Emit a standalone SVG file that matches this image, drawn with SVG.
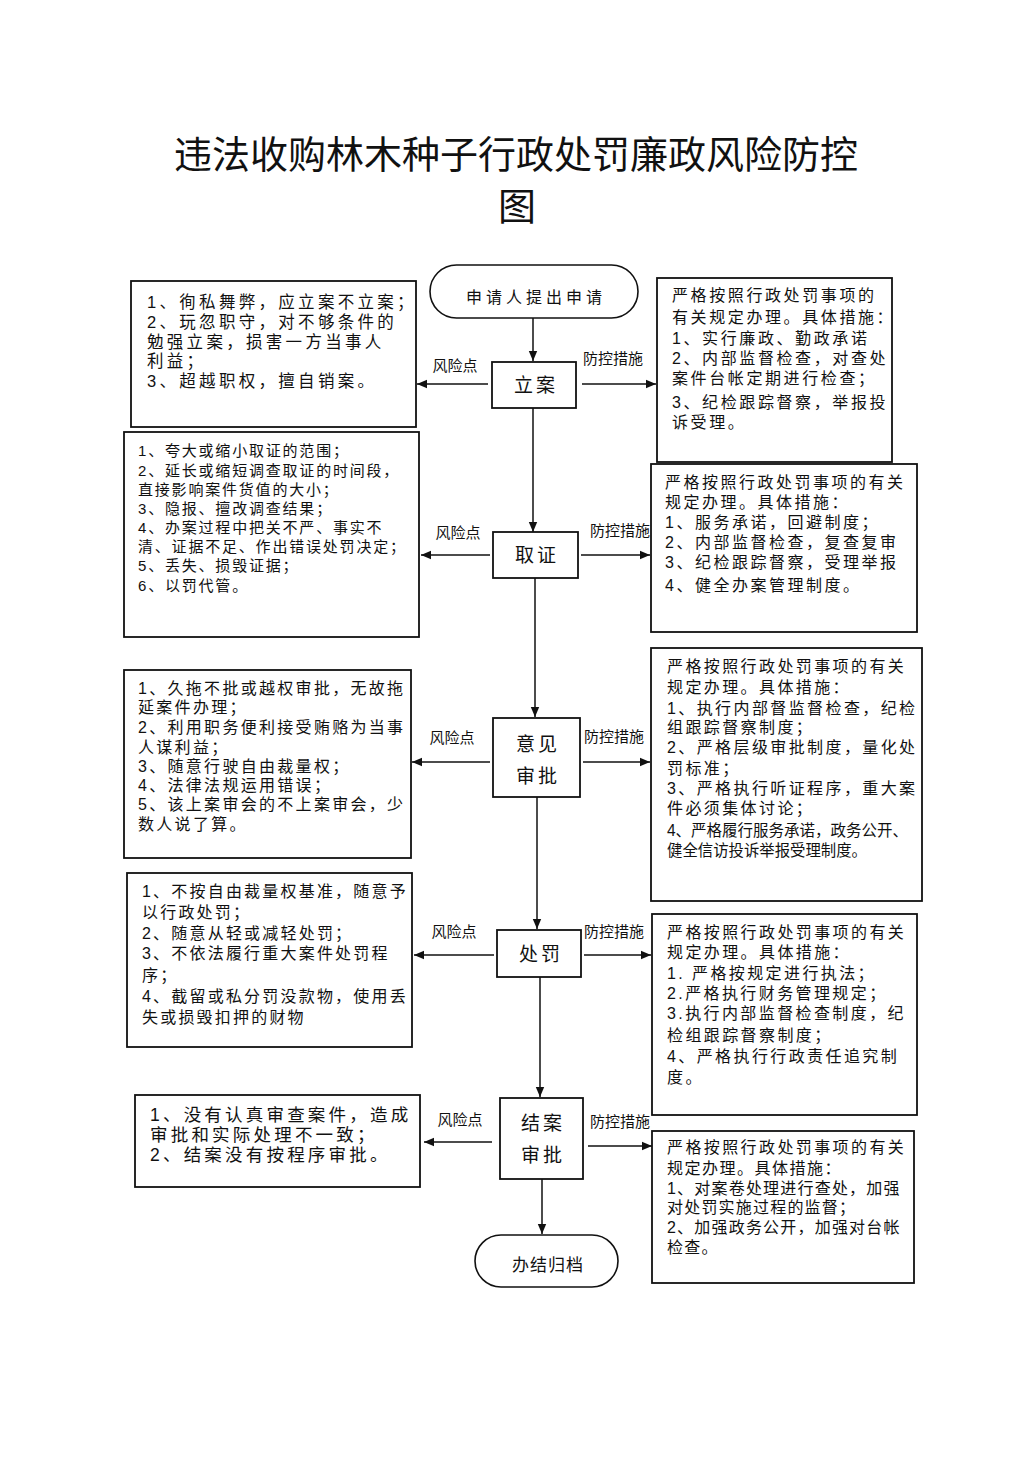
<svg xmlns="http://www.w3.org/2000/svg" width="1033" height="1461" viewBox="0 0 1033 1461">
<style>
text{font-family:"Liberation Sans","Noto Sans CJK SC",sans-serif;fill:#111;}
.title{font-size:38px;text-anchor:middle;}
.box{fill:#fff;stroke:#111;stroke-width:1.8;}
.term{fill:#fff;stroke:#111;stroke-width:1.6;}
.node{font-size:19px;text-anchor:middle;letter-spacing:3px;}
.lbl{font-size:15px;text-anchor:middle;}
.a{font-size:16.5px;letter-spacing:3.3px;}
.b{font-size:16px;letter-spacing:2.5px;}
.c{font-size:15px;letter-spacing:1.8px;}
.d{font-size:17.5px;letter-spacing:3.2px;}
.con line{stroke:#111;stroke-width:1.5;}
</style>
<defs>
<marker id="ah" viewBox="0 0 10 10" refX="10" refY="5" markerWidth="10" markerHeight="10" markerUnits="userSpaceOnUse" orient="auto">
<path d="M0,0.8 L10,5 L0,9.2 Z" fill="#111"/>
</marker>
</defs>
<rect width="1033" height="1461" fill="#fff"/>
<g id="title">
<text class="title" x="516" y="168">违法收购林木种子行政处罚廉政风险防控</text>
<text class="title" x="517" y="220">图</text>
</g>

<g class="con" id="connectors">
<line x1="533" y1="318" x2="533" y2="361" marker-end="url(#ah)"/>
<line x1="533" y1="408" x2="533" y2="532" marker-end="url(#ah)"/>
<line x1="535" y1="578" x2="535" y2="717" marker-end="url(#ah)"/>
<line x1="537" y1="797" x2="537" y2="929" marker-end="url(#ah)"/>
<line x1="540" y1="977" x2="540" y2="1097" marker-end="url(#ah)"/>
<line x1="542" y1="1179" x2="542" y2="1234" marker-end="url(#ah)"/>
<line x1="488" y1="384" x2="417" y2="384" marker-end="url(#ah)"/>
<line x1="582" y1="384" x2="656" y2="384" marker-end="url(#ah)"/>
<line x1="490" y1="555" x2="421" y2="555" marker-end="url(#ah)"/>
<line x1="581" y1="555" x2="650" y2="555" marker-end="url(#ah)"/>
<line x1="490" y1="762" x2="412" y2="762" marker-end="url(#ah)"/>
<line x1="583" y1="762" x2="650" y2="762" marker-end="url(#ah)"/>
<line x1="494" y1="955" x2="414" y2="955" marker-end="url(#ah)"/>
<line x1="584" y1="955" x2="651" y2="955" marker-end="url(#ah)"/>
<line x1="492" y1="1142" x2="424" y2="1142" marker-end="url(#ah)"/>
<line x1="588" y1="1146" x2="652" y2="1146" marker-end="url(#ah)"/>
<text class="lbl" x="455" y="371">风险点</text>
<text class="lbl" x="613" y="364">防控措施</text>
<text class="lbl" x="458" y="538">风险点</text>
<text class="lbl" x="620" y="536">防控措施</text>
<text class="lbl" x="452" y="743">风险点</text>
<text class="lbl" x="614" y="742">防控措施</text>
<text class="lbl" x="454" y="937">风险点</text>
<text class="lbl" x="614" y="937">防控措施</text>
<text class="lbl" x="460" y="1125">风险点</text>
<text class="lbl" x="620" y="1127">防控措施</text>
</g>

<g id="start">
<rect class="term" x="430" y="265" width="208" height="53" rx="26.5"/>
<text class="node" x="536" y="303" style="font-size:16px;letter-spacing:4px">申请人提出申请</text>
</g>
<g id="lian">
<rect class="box" x="492" y="362" width="84" height="46"/>
<text class="node" x="536" y="392">立案</text>
</g>
<g id="quzheng">
<rect class="box" x="493" y="532" width="85" height="46"/>
<text class="node" x="537" y="562">取证</text>
</g>
<g id="yijian">
<rect class="box" x="493" y="718" width="87" height="79"/>
<text class="node" x="538" y="751">意见</text>
<text class="node" x="538" y="783">审批</text>
</g>
<g id="chufa">
<rect class="box" x="497" y="930" width="84" height="47"/>
<text class="node" x="541" y="961">处罚</text>
</g>
<g id="jiean">
<rect class="box" x="500" y="1098" width="83" height="81"/>
<text class="node" x="543" y="1130">结案</text>
<text class="node" x="543" y="1162">审批</text>
</g>
<g id="end">
<rect class="term" x="475" y="1235" width="143" height="52" rx="26"/>
<text class="node" x="548" y="1271" style="font-size:17px;letter-spacing:1px">办结归档</text>
</g>

<g id="risk1">
<rect class="box" x="131" y="281" width="285" height="146"/>
<text class="a" x="147" y="308">1、徇私舞弊，应立案不立案；</text>
<text class="a" x="147" y="328">2、玩忽职守，对不够条件的</text>
<text class="a" x="147" y="348">勉强立案，损害一方当事人</text>
<text class="a" x="147" y="367">利益；</text>
<text class="a" x="147" y="387">3、超越职权，擅自销案。</text>
</g>
<g id="ctrl1">
<rect class="box" x="657" y="278" width="235" height="184"/>
<text class="b" x="672" y="301" style="letter-spacing:2.6px">严格按照行政处罚事项的</text>
<text class="b" x="672" y="323" style="letter-spacing:2.6px">有关规定办理。具体措施：</text>
<text class="b" x="672" y="344" style="letter-spacing:2.6px">1、实行廉政、勤政承诺</text>
<text class="b" x="672" y="364" style="letter-spacing:2.6px">2、内部监督检查，对查处</text>
<text class="b" x="672" y="384" style="letter-spacing:2.6px">案件台帐定期进行检查；</text>
<text class="b" x="672" y="408" style="letter-spacing:2.6px">3、纪检跟踪督察，举报投</text>
<text class="b" x="672" y="428" style="letter-spacing:2.6px">诉受理。</text>
</g>

<g id="risk2">
<rect class="box" x="124" y="432" width="295" height="205"/>
<text class="c" x="138" y="456">1、夸大或缩小取证的范围；</text>
<text class="c" x="138" y="476">2、延长或缩短调查取证的时间段，</text>
<text class="c" x="138" y="495">直接影响案件货值的大小；</text>
<text class="c" x="138" y="514">3、隐报、擅改调查结果；</text>
<text class="c" x="138" y="533">4、办案过程中把关不严、事实不</text>
<text class="c" x="138" y="552">清、证据不足、作出错误处罚决定；</text>
<text class="c" x="138" y="571">5、丢失、损毁证据；</text>
<text class="c" x="138" y="591">6、以罚代管。</text>
</g>
<g id="ctrl2">
<rect class="box" x="651" y="464" width="266" height="168"/>
<text class="b" x="665" y="488">严格按照行政处罚事项的有关</text>
<text class="b" x="665" y="508">规定办理。具体措施：</text>
<text class="b" x="665" y="528">1、服务承诺，回避制度；</text>
<text class="b" x="665" y="548">2、内部监督检查，复查复审</text>
<text class="b" x="665" y="568">3、纪检跟踪督察，受理举报</text>
<text class="b" x="665" y="591">4、健全办案管理制度。</text>
</g>

<g id="risk3">
<rect class="box" x="124" y="670" width="287" height="188"/>
<text class="b" x="138" y="694" style="letter-spacing:2.3px">1、久拖不批或越权审批，无故拖</text>
<text class="b" x="138" y="713" style="letter-spacing:2.3px">延案件办理；</text>
<text class="b" x="138" y="733" style="letter-spacing:2.3px">2、利用职务便利接受贿赂为当事</text>
<text class="b" x="138" y="753" style="letter-spacing:2.3px">人谋利益；</text>
<text class="b" x="138" y="772" style="letter-spacing:2.3px">3、随意行驶自由裁量权；</text>
<text class="b" x="138" y="791" style="letter-spacing:2.3px">4、法律法规运用错误；</text>
<text class="b" x="138" y="810" style="letter-spacing:2.3px">5、该上案审会的不上案审会，少</text>
<text class="b" x="138" y="830" style="letter-spacing:2.3px">数人说了算。</text>
</g>
<g id="ctrl3">
<rect class="box" x="651" y="648" width="271" height="253"/>
<text class="b" x="667" y="672" style="letter-spacing:2.4px">严格按照行政处罚事项的有关</text>
<text class="b" x="667" y="693" style="letter-spacing:2.4px">规定办理。具体措施：</text>
<text class="b" x="667" y="714" style="letter-spacing:2.4px">1、执行内部督监督检查，纪检</text>
<text class="b" x="667" y="733" style="letter-spacing:2.4px">组跟踪督察制度；</text>
<text class="b" x="667" y="753" style="letter-spacing:2.4px">2、严格层级审批制度，量化处</text>
<text class="b" x="667" y="774" style="letter-spacing:2.4px">罚标准；</text>
<text class="b" x="667" y="794" style="letter-spacing:2.4px">3、严格执行听证程序，重大案</text>
<text class="b" x="667" y="814" style="letter-spacing:2.4px">件必须集体讨论；</text>
<text class="b" x="667" y="836" style="letter-spacing:0px" textLength="241" lengthAdjust="spacingAndGlyphs">4、严格履行服务承诺，政务公开、</text>
<text class="b" x="667" y="856" style="letter-spacing:0px" textLength="200" lengthAdjust="spacingAndGlyphs">健全信访投诉举报受理制度。</text>
</g>

<g id="risk4">
<rect class="box" x="127" y="873" width="285" height="174"/>
<text class="b" x="142" y="897" style="letter-spacing:2.2px">1、不按自由裁量权基准，随意予</text>
<text class="b" x="142" y="918" style="letter-spacing:2.2px">以行政处罚；</text>
<text class="b" x="142" y="939" style="letter-spacing:2.2px">2、随意从轻或减轻处罚；</text>
<text class="b" x="142" y="959" style="letter-spacing:2.2px">3、不依法履行重大案件处罚程</text>
<text class="b" x="142" y="981" style="letter-spacing:2.2px">序；</text>
<text class="b" x="142" y="1002" style="letter-spacing:2.2px">4、截留或私分罚没款物，使用丢</text>
<text class="b" x="142" y="1023" style="letter-spacing:2.2px">失或损毁扣押的财物</text>
</g>
<g id="ctrl4">
<rect class="box" x="652" y="914" width="265" height="201"/>
<text class="b" x="667" y="938" style="letter-spacing:2.4px">严格按照行政处罚事项的有关</text>
<text class="b" x="667" y="958" style="letter-spacing:2.4px">规定办理。具体措施：</text>
<text class="b" x="667" y="979" style="letter-spacing:2.4px">1. 严格按规定进行执法；</text>
<text class="b" x="667" y="999" style="letter-spacing:2.4px">2.严格执行财务管理规定；</text>
<text class="b" x="667" y="1019" style="letter-spacing:2.4px">3.执行内部监督检查制度，纪</text>
<text class="b" x="667" y="1041" style="letter-spacing:2.4px">检组跟踪督察制度；</text>
<text class="b" x="667" y="1062" style="letter-spacing:2.4px">4、严格执行行政责任追究制</text>
<text class="b" x="667" y="1083" style="letter-spacing:2.4px">度。</text>
</g>

<g id="risk5">
<rect class="box" x="135" y="1095" width="285" height="92"/>
<text class="d" x="150" y="1121">1、没有认真审查案件，造成</text>
<text class="d" x="150" y="1141">审批和实际处理不一致；</text>
<text class="d" x="150" y="1161">2、结案没有按程序审批。</text>
</g>
<g id="ctrl5">
<rect class="box" x="652" y="1131" width="262" height="152"/>
<text class="b" x="667" y="1153" style="letter-spacing:2.4px">严格按照行政处罚事项的有关</text>
<text class="b" x="667" y="1174" style="letter-spacing:1.5px">规定办理。具体措施：</text>
<text class="b" x="667" y="1194" style="letter-spacing:1.2px">1、对案卷处理进行查处，加强</text>
<text class="b" x="667" y="1213" style="letter-spacing:1.2px">对处罚实施过程的监督；</text>
<text class="b" x="667" y="1233" style="letter-spacing:1.2px">2、加强政务公开，加强对台帐</text>
<text class="b" x="667" y="1253" style="letter-spacing:1.2px">检查。</text>
</g>
</svg>
